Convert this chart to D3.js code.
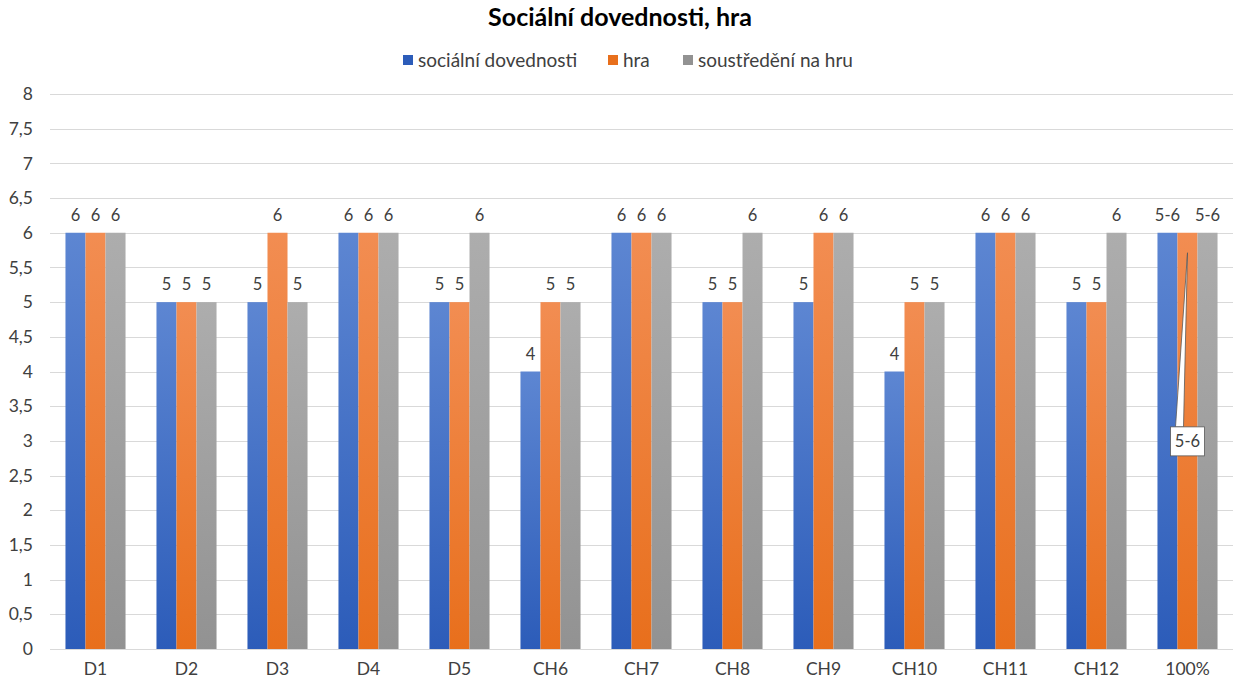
<!DOCTYPE html>
<html>
<head>
<meta charset="utf-8">
<title>Sociální dovednosti, hra</title>
<script src="https://d3js.org/d3.v7.min.js"></script>
<style>
  body { margin: 0; background: #fff; }
  text { font-family: Lato, "Open Sans", sans-serif; fill: #404040; }
</style>
</head>
<body>
<svg width="1239" height="683"></svg>
<script>
const categories = ["D1", "D2", "D3", "D4", "D5", "CH6", "CH7", "CH8", "CH9", "CH10", "CH11", "CH12", "100%"];
const seriesNames = ["sociální dovednosti", "hra", "soustředění na hru"];
const socialni = [6, 5, 5, 6, 5, 4, 6, 5, 5, 4, 6, 5, 6];
const hra = [6, 5, 6, 6, 5, 5, 6, 5, 6, 5, 6, 5, 6];
const soustredeni = [6, 5, 5, 6, 6, 5, 6, 6, 6, 5, 6, 6, 6];
// labels shown above bars (last category is a range)
const lastLabel = "5-6";
const yTicks = d3.range(0, 8.01, 0.5);

const width = 1239, height = 683;
const margin = {top: 94, right: 6, bottom: 34, left: 50};
const svg = d3.select("svg");

const colors = [
  {top: "#5d86d2", bottom: "#2c5cb9"},
  {top: "#f28d52", bottom: "#e86f1c"},
  {top: "#adadad", bottom: "#929292"}
];

const defs = svg.append("defs");
colors.forEach((c, i) => {
  const g = defs.append("linearGradient").attr("id", "g" + i)
    .attr("x1", 0).attr("y1", 0).attr("x2", 0).attr("y2", 1);
  g.append("stop").attr("offset", "0%").attr("stop-color", c.top);
  g.append("stop").attr("offset", "100%").attr("stop-color", c.bottom);
});

const x = d3.scaleBand().domain(categories)
  .range([margin.left, width - margin.right]).paddingInner(0.34).paddingOuter(0.17);
const xs = d3.scaleBand().domain(d3.range(3)).range([0, x.bandwidth()]);
const y = d3.scaleLinear().domain([0, 8]).range([height - margin.bottom, margin.top]);

// gridlines
svg.append("g").selectAll("line").data(yTicks).join("line")
  .attr("x1", margin.left).attr("x2", width - margin.right)
  .attr("y1", d => Math.round(y(d)) + 0.5).attr("y2", d => Math.round(y(d)) + 0.5)
  .attr("stroke", "#d9d9d9").attr("stroke-width", 1);

// y tick labels
svg.append("g").selectAll("text").data(yTicks).join("text")
  .attr("x", 33).attr("y", d => y(d)).attr("dy", "0.35em")
  .attr("text-anchor", "end").attr("font-size", 17.5)
  .text(d => String(d).replace(".", ","));

// x labels
svg.append("g").selectAll("text").data(categories).join("text")
  .attr("x", d => x(d) + x.bandwidth() / 2).attr("y", 675)
  .attr("text-anchor", "middle").attr("font-size", 17.5)
  .text(d => d);

const series = [socialni, hra, soustredeni];
const rows = [];
categories.forEach((c, ci) => series.forEach((s, si) => rows.push({c, ci, si, v: s[ci]})));

// bars
svg.append("g").selectAll("rect").data(rows).join("rect")
  .attr("x", d => x(d.c) + xs(d.si))
  .attr("width", xs.bandwidth())
  .attr("y", d => y(d.v))
  .attr("height", d => y(0) - y(d.v))
  .attr("fill", d => `url(#g${d.si})`);

// data labels
svg.append("g").selectAll("text")
  .data(rows.filter(d => !(d.ci === categories.length - 1 && d.si === 1)))
  .join("text")
  .attr("x", d => x(d.c) + xs(d.si) + xs.bandwidth() / 2)
  .attr("y", d => y(d.v) - 12)
  .attr("text-anchor", "middle").attr("font-size", 16.5)
  .text(d => d.ci === categories.length - 1 ? lastLabel : d.v);

// callout for the middle bar of the last category
const lc = categories[categories.length - 1];
const cx = x(lc) + xs(1) + xs.bandwidth() / 2;
const boxY = y(3);
const callout = svg.append("g");
callout.append("path")
  .attr("d", `M${cx - 12},${boxY - 14} L${cx},${y(hra[hra.length - 1]) + 20} L${cx - 4},${boxY - 14} Z`)
  .attr("fill", "#fff").attr("stroke", "#595959").attr("stroke-width", 0.8);
callout.append("rect")
  .attr("x", cx - 17).attr("y", boxY - 14).attr("width", 34).attr("height", 29)
  .attr("fill", "#fff").attr("stroke", "#595959").attr("stroke-width", 0.8);
callout.append("text")
  .attr("x", cx).attr("y", boxY).attr("dy", "0.35em")
  .attr("text-anchor", "middle").attr("font-size", 16.5).text(lastLabel);

// title
svg.append("text").attr("x", 620).attr("y", 26)
  .attr("text-anchor", "middle").attr("font-size", 25).attr("font-weight", "bold")
  .style("fill", "#000").text("Sociální dovednosti, hra");

// legend
const legendX = [403, 608, 683];
const legend = svg.append("g").selectAll("g").data(seriesNames).join("g")
  .attr("transform", (d, i) => `translate(${legendX[i]},60)`);
legend.append("rect").attr("x", 0).attr("y", -5).attr("width", 10).attr("height", 10)
  .attr("fill", (d, i) => colors[i].bottom);
legend.append("text").attr("x", 15).attr("dy", "0.35em").attr("font-size", 19)
  .text(d => d);
</script>
</body>
</html>
